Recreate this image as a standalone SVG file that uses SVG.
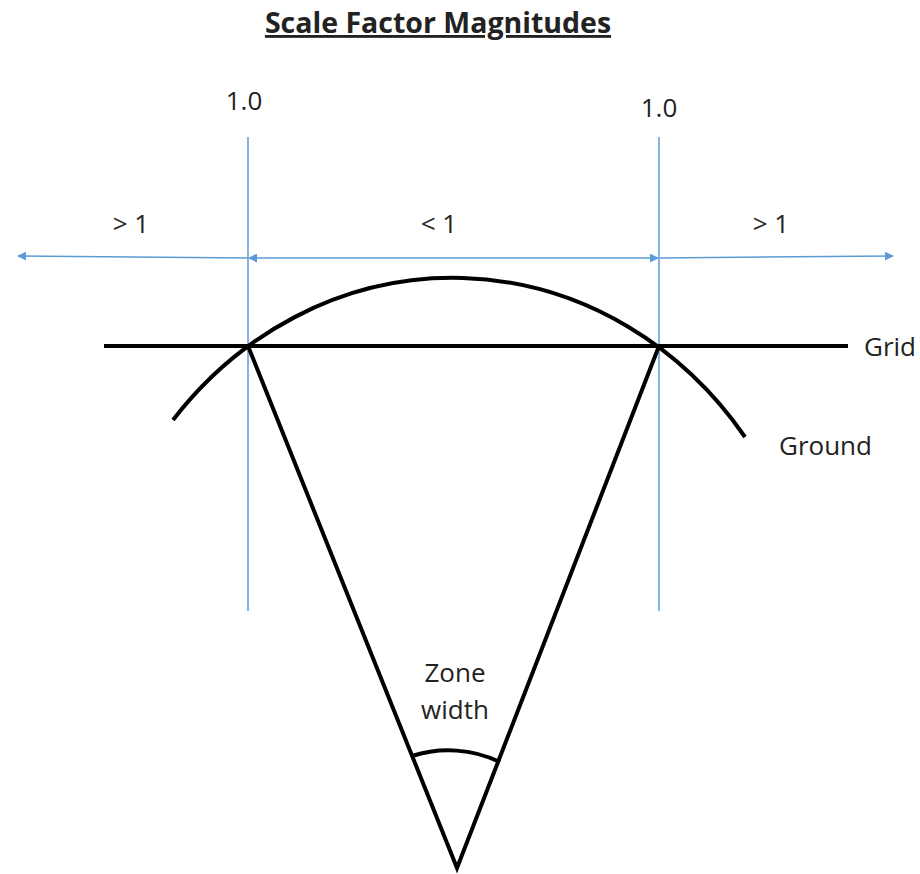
<svg xmlns="http://www.w3.org/2000/svg" width="920" height="874" viewBox="0 0 920 874">
<style>
.t{font-family:"Open Sans","Noto Sans","Liberation Sans",sans-serif;fill:#222;font-size:26px}
.blue{stroke:#5B9BD5;stroke-width:1.5;fill:none}
.blk{stroke:#000;stroke-width:4;fill:none}
</style>
<defs>
<marker id="ah" viewBox="0 0 10 10" refX="9" refY="5" markerWidth="9" markerHeight="9" markerUnits="userSpaceOnUse" orient="auto-start-reverse">
<path d="M0,0 L10,5 L0,10 z" fill="#5B9BD5"/>
</marker>
</defs>
<rect width="920" height="874" fill="#fff"/>
<g id="title">
<text class="t" x="438" y="33" text-anchor="middle" style="font-weight:bold;font-size:28.5px" text-decoration="underline">Scale Factor Magnitudes</text>
</g>
<g id="connectors">
<line class="blue" x1="248" y1="137" x2="248" y2="611"/>
<line class="blue" x1="659" y1="137" x2="659" y2="611"/>
<line class="blue" x1="248" y1="258" x2="18" y2="256" marker-end="url(#ah)"/>
<line class="blue" x1="249" y1="258" x2="658" y2="258" marker-start="url(#ah)" marker-end="url(#ah)"/>
<line class="blue" x1="660" y1="258" x2="893" y2="256" marker-end="url(#ah)"/>
</g>
<g id="grid">
<line class="blk" x1="104" y1="346" x2="848" y2="346"/>
<text class="t" x="864" y="356">Grid</text>
</g>
<g id="ground">
<path class="blk" d="M173,420 A366,400 0 0 1 745,437"/>
<text class="t" x="779" y="455">Ground</text>
</g>
<g id="zone">
<path class="blk" d="M248,346 L457,868 L659,346"/>
<path class="blk" d="M412,756 A120,120 0 0 1 500,762"/>
<text class="t" x="455" y="682" text-anchor="middle">Zone</text>
<text class="t" x="455" y="719" text-anchor="middle">width</text>
</g>
<g id="labels">
<text class="t" x="244" y="110" text-anchor="middle">1.0</text>
<text class="t" x="659" y="117" text-anchor="middle">1.0</text>
<text class="t" x="131" y="233" text-anchor="middle">&gt; 1</text>
<text class="t" x="439" y="233" text-anchor="middle">&lt; 1</text>
<text class="t" x="771" y="233" text-anchor="middle">&gt; 1</text>
</g>
</svg>
